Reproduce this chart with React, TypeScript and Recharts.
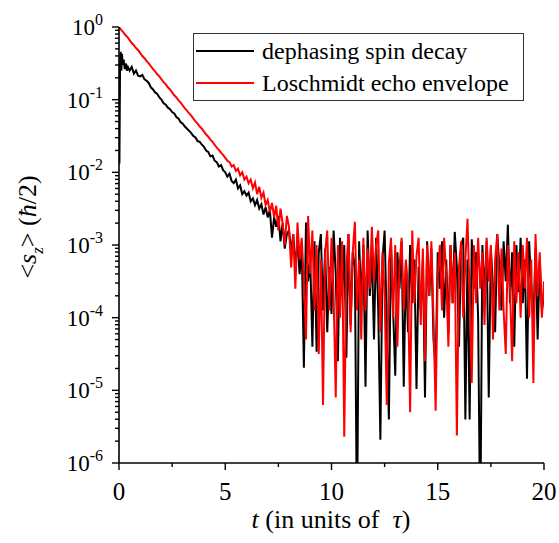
import React from 'react';
import { LineChart, Line, XAxis, YAxis, Legend } from 'recharts';

const FONT = "'Liberation Serif', 'DejaVu Serif', serif";
const SERIF = { fontFamily: FONT };

// axis ticks
const X_MAJOR = [0, 5, 10, 15, 20];
const X_MINOR = [2.5, 7.5, 12.5, 17.5];
const Y_DECADES = [-6, -5, -4, -3, -2, -1, 0];
const Y_MINOR_STEPS = [2, 3, 4, 5, 6, 7, 8, 9];
const LEGEND_ORDER = ['dephasing spin decay', 'Loschmidt echo envelope'];

// readings are log10 of <s_z>; one reading every STEP in t
const STEP = 0.1;

// dephasing spin decay: initial spike at uneven times, then the grid from t = 0.5
const BLACK_HEAD_T = [0, 0.02, 0.05, 0.08, 0.11, 0.14, 0.18, 0.22, 0.27, 0.32, 0.37, 0.42];
const BLACK_HEAD_EXP = [-0.9, -1.88, -0.5, -0.34, -0.6, -0.37, -0.52, -0.45, -0.58, -0.5, -0.6, -0.55];
const BLACK_START = 0.5;
const BLACK_EXP = [
  -0.60, -0.55, -0.64, -0.60, -0.67,
  -0.68, -0.66, -0.72, -0.74, -0.77, -0.83, -0.86, -0.90, -0.92, -0.97,
  -1.00, -1.05, -1.07, -1.11, -1.13, -1.17, -1.19, -1.24, -1.26, -1.31,
  -1.33, -1.37, -1.40, -1.43, -1.46, -1.50, -1.52, -1.57, -1.58, -1.62,
  -1.65, -1.70, -1.72, -1.78, -1.77, -1.84, -1.86, -1.92, -1.90, -1.97,
  -2.00, -2.06, -2.02, -2.12, -2.15, -2.10, -2.22, -2.18, -2.30, -2.26,
  -2.32, -2.28, -2.40, -2.36, -2.45, -2.38, -2.50, -2.44, -2.58, -2.48,
  -2.62, -2.52, -2.90, -2.62, -2.75, -2.60, -2.95, -2.70, -3.05, -2.85,
  -2.80, -3.10, -2.85, -3.30, -2.95, -3.40, -3.00, -4.69, -2.69, -3.50,
  -3.20, -4.40, -2.95, -4.47, -3.10, -2.85, -3.90, -3.05, -4.20, -3.30,
  -3.95, -2.80, -3.40, -4.60, -2.90, -3.70, -3.00, -4.55, -2.85, -4.10,
  -3.10, -3.30, -7.00, -2.95, -3.80, -3.00, -4.95, -2.80, -3.70, -3.10,
  -4.30, -2.90, -3.90, -5.68, -3.20, -2.80, -4.10, -5.40, -3.00, -3.90,
  -4.80, -3.10, -3.60, -2.95, -4.95, -3.25, -4.20, -3.00, -3.80, -3.20,
  -4.98, -3.30, -3.90, -3.20, -5.10, -2.95, -3.70, -3.05, -4.30, -4.70,
  -3.10, -3.60, -2.95, -4.00, -3.20, -4.23, -3.00, -3.80, -2.82, -3.30,
  -4.40, -3.00, -2.90, -5.40, -3.20, -5.40, -2.92, -3.60, -3.10, -4.00,
  -7.00, -3.00, -3.70, -2.95, -5.10, -3.05, -3.60, -4.20, -2.85, -3.30,
  -3.90, -2.95, -3.50, -2.72, -3.80, -3.10, -4.40, -3.00, -3.65, -2.90,
  -3.80, -3.20, -4.84, -2.95, -3.55, -4.10, -3.05, -4.30, -3.20, -3.90,
  -3.70,
];

// Loschmidt echo envelope, from t = 0
const RED_START = 0;
const RED_EXP = [
  0.00, -0.04, -0.07, -0.11, -0.14, -0.18, -0.22, -0.25, -0.29, -0.32,
  -0.36, -0.40, -0.43, -0.47, -0.50, -0.54, -0.58, -0.61, -0.65, -0.68,
  -0.72, -0.76, -0.79, -0.83, -0.86, -0.90, -0.94, -0.97, -1.01, -1.04,
  -1.08, -1.12, -1.15, -1.19, -1.22, -1.26, -1.30, -1.33, -1.37, -1.40,
  -1.44, -1.48, -1.51, -1.55, -1.58, -1.62, -1.66, -1.69, -1.73, -1.76,
  -1.80, -1.84, -1.86, -1.92, -1.90, -1.98, -1.95, -2.04, -2.00, -2.10,
  -2.06, -2.15, -2.10, -2.22, -2.14, -2.30, -2.20, -2.35, -2.28, -2.45,
  -2.38, -2.55, -2.42, -2.62, -2.46, -2.80, -2.50, -2.70, -3.00, -2.60,
  -2.75, -3.31, -2.85, -3.60, -2.69, -3.20, -2.90, -3.50, -4.30, -2.60,
  -3.40, -2.80, -3.90, -3.00, -4.50, -3.20, -5.20, -3.10, -2.80, -3.90,
  -2.90, -3.70, -5.10, -3.00, -4.00, -2.95, -5.64, -3.30, -2.85, -4.20,
  -3.10, -2.68, -3.90, -3.20, -4.30, -2.90, -3.90, -3.05, -3.60, -2.75,
  -3.50, -3.00, -2.80, -4.20, -3.10, -3.70, -5.20, -3.25, -2.90, -4.00,
  -3.00, -4.40, -3.30, -2.90, -3.90, -3.20, -3.60, -5.30, -2.80, -3.80,
  -3.15, -2.90, -4.10, -3.05, -4.60, -3.00, -3.70, -2.95, -4.00, -5.28,
  -3.40, -3.00, -3.90, -2.90, -3.40, -4.40, -3.00, -3.80, -3.10, -5.62,
  -3.30, -2.95, -4.00, -3.20, -2.64, -3.70, -4.90, -3.00, -3.80, -2.90,
  -3.60, -3.10, -4.10, -2.90, -3.50, -3.00, -4.30, -3.20, -2.85, -3.90,
  -3.05, -3.90, -4.50, -3.00, -3.60, -4.60, -2.95, -3.80, -3.10, -4.00,
  -3.00, -3.60, -2.90, -4.00, -3.20, -4.90, -2.85, -3.70, -3.10, -4.00,
  -3.50,
];

const gridSeries = (start: number, exps: number[]) =>
  exps.map((e, i) => ({ t: +(start + i * STEP).toFixed(2), v: Math.pow(10, e) }));

const blackData = [
  ...BLACK_HEAD_T.map((t, i) => ({ t, v: Math.pow(10, BLACK_HEAD_EXP[i]) })),
  ...gridSeries(BLACK_START, BLACK_EXP),
];
const redData = gridSeries(RED_START, RED_EXP);

const Y_MAJOR = Y_DECADES.map((d) => Math.pow(10, d));
const Y_MINOR = Y_DECADES.slice(0, -1).flatMap((d) => Y_MINOR_STEPS.map((k) => k * Math.pow(10, d)));
const Y_TICKS = [...Y_MAJOR, ...Y_MINOR].sort((a, b) => a - b);
const X_TICKS = [...X_MAJOR, ...X_MINOR].sort((a, b) => a - b);

const isMajorY = (v: number) => Math.abs(Math.log10(v) - Math.round(Math.log10(v))) < 1e-6;
const isMajorX = (v: number) => X_MAJOR.includes(v);

const AXIS_LINE = { stroke: '#000', strokeWidth: 1.6 };
const TICK_W = 1.4;

const LeftTick = (p: any) => {
  const { x, y, payload } = p;
  const major = isMajorY(payload.value);
  const exp = Math.round(Math.log10(payload.value));
  return (
    <g>
      <line x1={x} x2={x - (major ? 7 : 4)} y1={y} y2={y} stroke="#000" strokeWidth={TICK_W} />
      {major && (
        <text x={x - 16} y={y + 8} textAnchor="end" fontSize={23} fontFamily={FONT} style={SERIF} fill="#000">
          10<tspan dy={-10} fontSize={16}>{String(exp)}</tspan>
        </text>
      )}
    </g>
  );
};

const RightTick = (p: any) => {
  const { x, y, payload } = p;
  const major = isMajorY(payload.value);
  return <line x1={x} x2={x - (major ? 8 : 4)} y1={y} y2={y} stroke="#000" strokeWidth={TICK_W} />;
};

const BottomTick = (p: any) => {
  const { x, y, payload } = p;
  const major = isMajorX(payload.value);
  return (
    <g>
      <line x1={x} x2={x} y1={y} y2={y + (major ? 7 : 4)} stroke="#000" strokeWidth={TICK_W} />
      {major && (
        <text x={x} y={y + 37} textAnchor="middle" fontSize={25} fontFamily={FONT} style={SERIF} fill="#000">
          {payload.value}
        </text>
      )}
    </g>
  );
};

const TopTick = (p: any) => {
  const { x, y, payload } = p;
  const major = isMajorX(payload.value);
  return <line x1={x} x2={x} y1={y} y2={y + (major ? 8 : 4)} stroke="#000" strokeWidth={TICK_W} />;
};

const LegendBox = ({ payload }: any) => {
  const items = [...(payload || [])].sort(
    (a: any, b: any) => LEGEND_ORDER.indexOf(a.value) - LEGEND_ORDER.indexOf(b.value)
  );
  return (
    <div style={{ width: 331, height: 68, border: '1px solid #333', boxSizing: 'border-box', background: '#fff' }}>
      <svg width={329} height={66} style={{ display: 'block' }}>
        {items.map((entry: any, i: number) => {
          const cy = 17 + 32 * i;
          return (
            <g key={entry.value}>
              <line x1={2} x2={60} y1={cy} y2={cy} stroke={entry.color} strokeWidth={2} />
              <text x={68} y={cy + 8} fontSize={24} style={SERIF} fill="#000">
                {entry.value}
              </text>
            </g>
          );
        })}
      </svg>
    </div>
  );
};

// axis titles sit in their own svg layer over the chart
const Titles = () => (
  <svg width={559} height={543} style={{ position: 'absolute', left: 0, top: 0, pointerEvents: 'none' }}>
    <text transform="translate(36,227) rotate(-90)" textAnchor="middle" fontSize={26} fontFamily={FONT} style={SERIF} fill="#000">
      &lt;<tspan fontStyle="italic">s</tspan>
      <tspan fontStyle="italic" fontSize={17} dy={7}>z</tspan>
      <tspan dy={-7}>&gt; (</tspan>
      <tspan fontStyle="italic">ħ</tspan>/2)
    </text>
    <text x={331} y={528} textAnchor="middle" fontSize={26} fontFamily={FONT} fill="#000" style={{ ...SERIF, whiteSpace: 'pre' }}>
      <tspan fontStyle="italic">t</tspan> (in units of  <tspan fontStyle="italic">τ</tspan>)
    </text>
  </svg>
);

export default function App() {
  return (
    <div style={{ position: 'absolute', left: 0, top: 0, width: 559, height: 543, background: '#fff', ...SERIF }}>
      <LineChart width={559} height={543} margin={{ top: 27, right: 15, bottom: 0, left: 0 }}>
        <XAxis
          dataKey="t"
          type="number"
          domain={[0, 20]}
          ticks={X_TICKS}
          interval={0}
          allowDataOverflow
          height={80}
          tickSize={0}
          tickMargin={0}
          axisLine={AXIS_LINE}
          tickLine={false}
          tick={BottomTick}
        />
        <XAxis
          xAxisId="top"
          orientation="top"
          mirror
          type="number"
          domain={[0, 20]}
          ticks={X_TICKS}
          interval={0}
          allowDataOverflow
          height={0}
          tickSize={0}
          tickMargin={0}
          axisLine={AXIS_LINE}
          tickLine={false}
          tick={TopTick}
        />
        <YAxis
          scale="log"
          type="number"
          domain={[1e-6, 1]}
          ticks={Y_TICKS}
          interval={0}
          allowDataOverflow
          width={119}
          tickSize={0}
          tickMargin={0}
          axisLine={AXIS_LINE}
          tickLine={false}
          tick={LeftTick}
        />
        <YAxis
          yAxisId="right"
          orientation="right"
          mirror
          scale="log"
          type="number"
          domain={[1e-6, 1]}
          ticks={Y_TICKS}
          interval={0}
          allowDataOverflow
          width={0}
          tickSize={0}
          tickMargin={0}
          axisLine={AXIS_LINE}
          tickLine={false}
          tick={RightTick}
        />
        <Legend
          layout="horizontal"
          verticalAlign="middle"
          align="center"
          content={LegendBox}
          wrapperStyle={{ left: 193, top: 33, width: 331, height: 68 }}
        />
        <Line
          data={blackData}
          dataKey="v"
          name="dephasing spin decay"
          type="linear"
          stroke="#000"
          strokeWidth={2}
          dot={false}
          isAnimationActive={false}
        />
        <Line
          data={redData}
          dataKey="v"
          name="Loschmidt echo envelope"
          type="linear"
          stroke="#ff0000"
          strokeWidth={2}
          dot={false}
          isAnimationActive={false}
        />
      </LineChart>
      <Titles />
    </div>
  );
}
